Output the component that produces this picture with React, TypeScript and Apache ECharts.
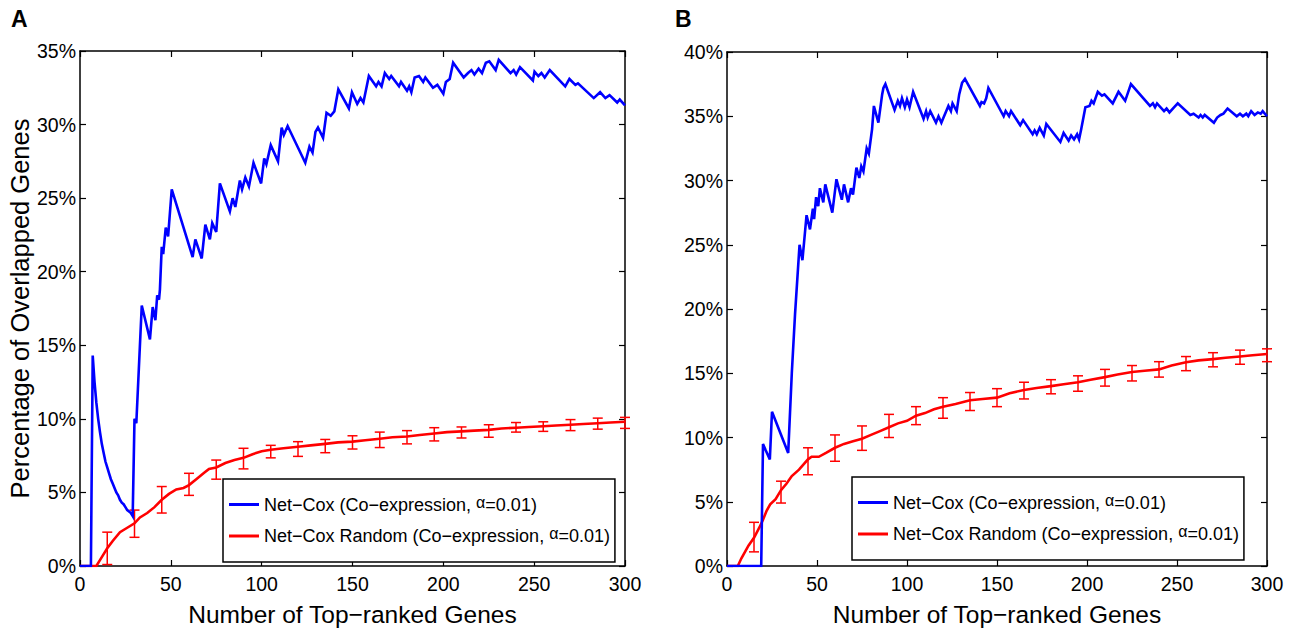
import React, { useEffect, useRef } from "react";
import * as echarts from "echarts";

// ---------- DATA ----------
const xTicksMax = 300;
const A_yMax = 35;
const B_yMax = 40;

const seriesNames = [
  "Net−Cox (Co−expression, α=0.01)",
  "Net−Cox Random (Co−expression, α=0.01)",
];

// Panel A – Net-Cox (blue)
const A_netcox: number[][] = [
  [0, 0], [6, 0], [7, 14.3], [8, 12.5], [9, 11.1], [10, 10.0], [11, 9.1], [12, 8.3], [13, 7.7],
  [14, 7.1], [15, 6.7], [16, 6.3], [17, 5.9], [18, 5.6], [19, 5.3], [20, 5.0], [21, 4.8],
  [22, 4.5], [23, 4.3], [24, 4.2], [25, 4.0], [26, 3.8], [27, 3.7], [28, 3.6], [29, 3.4],
  [30, 10.0], [31, 9.7], [34, 17.7], [38.5, 15.4], [40, 17.6], [41.5, 16.7], [42.5, 18.4],
  [43.5, 18.1], [44, 18.8], [45, 21.7], [45.8, 21.2], [47.2, 23.0], [48.5, 22.4], [50.5, 25.6],
  [62, 21.0], [63.5, 22.2], [67, 20.9], [69, 23.2], [71.5, 22.2], [72.8, 23.3], [75, 22.7],
  [77, 26.0], [82.5, 24.1], [84, 25.0], [85.5, 24.4], [88, 26.2], [89.2, 25.6], [91, 26.4],
  [93, 25.8], [95.5, 27.4], [99.7, 26.0], [101.4, 27.7], [102.6, 27.3], [105, 28.6], [109, 27.5],
  [111, 29.8], [112.2, 29.3], [114.3, 29.9], [124, 27.4], [126.3, 28.5], [128, 28.1],
  [129.6, 29.5], [131, 29.8], [133.8, 29.1], [135.7, 30.8], [138, 30.6], [140, 30.9],
  [142.2, 32.4], [148, 31.1], [149.7, 32.2], [152.6, 31.4], [154.4, 31.8], [156, 31.5],
  [159, 33.3], [163, 32.6], [164.3, 32.9], [166, 32.6], [167.8, 33.5], [170.2, 33.1],
  [171.3, 33.3], [175.6, 32.6], [176.7, 32.9], [180, 32.3], [181.2, 32.6], [182.4, 32.2],
  [184.2, 33.2], [186.6, 33.3], [188.9, 32.9], [190.1, 33.2], [194.3, 32.5], [196.7, 32.7],
  [200, 32.1], [201.4, 32.9], [203.5, 33.1], [205.4, 34.2], [211.2, 33.2], [213.6, 33.5],
  [215.5, 33.7], [217.1, 33.4], [219.4, 33.8], [221.3, 33.5], [223.4, 34.2], [225.3, 34.3],
  [228.8, 33.7], [230.5, 34.4], [237, 33.5], [238.7, 33.7], [240.1, 33.4], [242.2, 33.9],
  [249.3, 33.0], [250.2, 33.6], [252.3, 33.3], [254, 33.5], [255.8, 33.2], [258.6, 33.7],
  [267.1, 32.6], [269.4, 33.1], [272.7, 32.7], [274.1, 32.8], [282.8, 31.8], [286.3, 32.2],
  [289.2, 31.8], [291.5, 32.0], [295.7, 31.5], [297.1, 31.7], [300, 31.3],
];

// Panel A – Net-Cox Random (red)
const A_random: number[][] = [
  [0, 0], [9, 0], [12, 0.6], [15, 1.2], [18, 1.7], [22, 2.3], [26, 2.6], [30, 2.9], [33, 3.3],
  [37, 3.6], [41, 4.0], [45, 4.5], [49, 4.9], [53, 5.2], [57, 5.3], [60, 5.5], [64, 5.9],
  [68, 6.3], [71, 6.6], [75, 6.7], [80, 7.0], [85, 7.2], [90, 7.35], [95, 7.6], [100, 7.8],
  [105, 7.9], [112, 8.0], [120, 8.1], [127, 8.2], [135, 8.3], [142, 8.4], [150, 8.45],
  [157, 8.55], [165, 8.65], [172, 8.75], [180, 8.8], [187, 8.9], [195, 9.0], [202, 9.1],
  [210, 9.15], [217, 9.2], [225, 9.25], [232, 9.35], [240, 9.4], [247, 9.45], [255, 9.5],
  [262, 9.55], [270, 9.6], [277, 9.65], [285, 9.7], [292, 9.75], [300, 9.8],
];

const errX = [15, 30, 45, 60, 75, 90, 105, 120, 135, 150, 165, 180, 195, 210, 225, 240, 255, 270, 285, 300];
const A_errLo = [0.1, 1.95, 3.6, 4.8, 5.9, 6.6, 7.35, 7.45, 7.7, 7.95, 8.05, 8.3, 8.5, 8.7, 8.75, 9.1, 9.15, 9.2, 9.3, 9.35];
const A_errHi = [2.3, 3.8, 5.4, 6.3, 7.2, 8.0, 8.2, 8.45, 8.6, 8.85, 9.1, 9.2, 9.4, 9.45, 9.6, 9.75, 9.8, 9.95, 10.05, 10.1];

// Panel B – Net-Cox (blue)
const B_netcox: number[][] = [
  [0, 0], [19, 0], [20, 9.5], [21.5, 9.0], [23.8, 8.3], [25, 12.0], [34, 8.8], [36, 15.0],
  [37.8, 19.6], [40.3, 25.0], [41.9, 23.8], [44.2, 27.3], [46.1, 26.2], [47.7, 27.8],
  [48.4, 27.0], [49.5, 28.7], [50.7, 28.0], [51.6, 29.4], [53.5, 28.3], [54.6, 29.7],
  [58.5, 27.5], [60.8, 30.1], [63.8, 28.5], [65, 29.7], [67.3, 28.3], [68.9, 29.4], [70, 28.9],
  [71.9, 31.0], [73.5, 30.2], [74.6, 31.1], [75.8, 30.7], [77.6, 32.5], [78.8, 32.1],
  [80.6, 34.0], [81.6, 35.8], [84.1, 34.5], [86.2, 36.7], [86.9, 37.2], [88, 37.5], [93.1, 35.5],
  [94.9, 36.2], [96.1, 35.8], [97.2, 36.4], [98.8, 35.7], [100, 36.3], [101.4, 35.7],
  [103.4, 36.9], [109.2, 34.8], [110.6, 35.4], [111.5, 34.9], [112.9, 35.4], [116.1, 34.5],
  [117.5, 35.0], [119.1, 34.5], [120.3, 34.9], [123, 35.8], [124.4, 35.4], [125.3, 36.0],
  [127.6, 35.4], [129, 36.7], [130.6, 37.6], [132.2, 37.9], [140.5, 35.8], [141.4, 36.1],
  [142.8, 36.0], [144, 36.4], [145.2, 37.2], [153.7, 35.0], [154.8, 35.4], [156.7, 35.0],
  [157.8, 35.4], [162.9, 34.3], [164.5, 34.7], [169.8, 33.6], [170.9, 33.9], [172.1, 33.6],
  [173.7, 34.1], [176, 33.5], [177.4, 34.4], [185.2, 33.0], [187, 33.7], [189.8, 33.1],
  [191.2, 33.5], [192.8, 33.2], [194.5, 33.6], [195.6, 33.2], [196.8, 34.0], [199.1, 35.7],
  [201.4, 35.8], [202.5, 36.2], [203.7, 36.0], [206, 36.9], [208.3, 36.6], [209.7, 36.7],
  [214.3, 36.0], [217.5, 36.9], [221.2, 36.2], [224.4, 37.5], [235, 35.8], [236.6, 36.0],
  [237.8, 35.7], [238.9, 36.0], [242.8, 35.4], [244.2, 35.6], [245.8, 35.3], [247.7, 35.6],
  [250.4, 36.0], [257.4, 35.1], [259.2, 35.2], [262, 34.9], [263.1, 35.1], [264.3, 34.9],
  [265.4, 35.1], [270.5, 34.5], [272.3, 34.9], [274.2, 35.1], [275.8, 35.2], [278.1, 35.6],
  [283.2, 35.0], [285, 35.2], [286.6, 35.0], [288.5, 35.2], [289.6, 35.0], [291.2, 35.4],
  [293.1, 35.1], [294.9, 35.3], [296.5, 35.2], [297.6, 35.4], [300, 35.0],
];

// Panel B – Net-Cox Random (red)
const B_random: number[][] = [
  [0, 0], [6, 0], [8, 0.6], [12, 1.6], [15, 2.2], [18, 3.0], [20, 3.6], [22, 4.3], [24, 4.8],
  [27, 5.2], [30, 5.9], [33, 6.4], [36, 7.0], [40, 7.5], [45, 8.3], [47, 8.5], [51, 8.5],
  [55, 8.8], [60, 9.2], [65, 9.5], [70, 9.7], [75, 9.9], [80, 10.2], [85, 10.5], [90, 10.8],
  [95, 11.1], [100, 11.3], [105, 11.7], [110, 11.9], [115, 12.2], [120, 12.4], [127, 12.6],
  [135, 12.9], [142, 13.0], [150, 13.1], [157, 13.45], [165, 13.7], [172, 13.85], [180, 14.0],
  [187, 14.15], [195, 14.3], [202, 14.5], [210, 14.7], [217, 14.9], [225, 15.1], [232, 15.2],
  [240, 15.3], [247, 15.6], [255, 15.85], [262, 16.0], [270, 16.1], [277, 16.2], [285, 16.3],
  [292, 16.4], [300, 16.5],
];
const B_errLo = [1.1, 4.9, 7.1, 8.15, 9.0, 10.0, 11.0, 11.5, 12.1, 12.4, 13.0, 13.4, 13.6, 14.0, 14.4, 14.7, 15.2, 15.5, 15.7, 15.9];
const B_errHi = [3.4, 6.6, 9.2, 10.2, 10.9, 11.8, 12.4, 13.1, 13.5, 13.8, 14.3, 14.5, 14.8, 15.3, 15.6, 15.9, 16.3, 16.6, 16.8, 16.9];

const xTitle = "Number of Top−ranked Genes";
const yTitle = "Percentage of Overlapped Genes";

// ---------- STYLE ----------
const FONT = "'Liberation Sans', Arial, Helvetica, sans-serif";
const BLUE = "#0000ff";
const RED = "#ff0000";

function makeAxes(gridIndex: number, yMax: number, showYName: boolean) {
  const lineStyle = { color: "#000", width: 1.5 };
  const tick = { show: true, inside: true, length: 6, lineStyle: { color: "#000", width: 1.2 } };
  const xs = [
    {
      type: "value", gridIndex, min: 0, max: xTicksMax, interval: 50, position: "bottom",
      axisLine: { show: true, onZero: false, lineStyle }, axisTick: tick,
      splitLine: { show: false },
      axisLabel: { color: "#000", fontSize: 19.5, fontFamily: FONT, margin: 8 },
      name: xTitle, nameLocation: "middle", nameGap: 36,
      nameTextStyle: { color: "#000", fontSize: 24.5, fontFamily: FONT },
    },
    {
      type: "value", gridIndex, min: 0, max: xTicksMax, interval: 50, position: "top",
      axisLine: { show: true, onZero: false, lineStyle }, axisTick: tick,
      splitLine: { show: false }, axisLabel: { show: false },
    },
  ];
  const ys = [
    {
      type: "value", gridIndex, min: 0, max: yMax, interval: 5, position: "left",
      axisLine: { show: true, onZero: false, lineStyle }, axisTick: tick,
      splitLine: { show: false },
      axisLabel: { color: "#000", fontSize: 19.5, fontFamily: FONT, margin: 4, formatter: "{value}%" },
      name: showYName ? yTitle : "", nameLocation: "middle", nameGap: 47, nameRotate: 90,
      nameTextStyle: { color: "#000", fontSize: 25.5, fontFamily: FONT },
    },
    {
      type: "value", gridIndex, min: 0, max: yMax, interval: 5, position: "right",
      axisLine: { show: true, onZero: false, lineStyle }, axisTick: tick,
      splitLine: { show: false }, axisLabel: { show: false },
    },
  ];
  return { xs, ys };
}

function errorSeries(axisBase: number, lo: number[], hi: number[]) {
  const data = errX.map((x, i) => [x, lo[i], hi[i]]);
  return {
    type: "custom",
    name: "err" + axisBase,
    xAxisIndex: axisBase,
    yAxisIndex: axisBase,
    clip: false,
    silent: true,
    z: 3,
    encode: { x: 0, y: [1, 2] },
    data,
    renderItem: (_params: any, api: any) => {
      const x = api.value(0);
      const pLo = api.coord([x, api.value(1)]);
      const pHi = api.coord([x, api.value(2)]);
      const w = 5;
      const style = { stroke: RED, lineWidth: 1.5, fill: "none" };
      return {
        type: "group",
        children: [
          { type: "line", shape: { x1: pLo[0], y1: pLo[1], x2: pHi[0], y2: pHi[1] }, style },
          { type: "line", shape: { x1: pHi[0] - w, y1: pHi[1], x2: pHi[0] + w, y2: pHi[1] }, style },
          { type: "line", shape: { x1: pLo[0] - w, y1: pLo[1], x2: pLo[0] + w, y2: pLo[1] }, style },
        ],
      };
    },
  };
}

function lineSeries(name: string, axisIdx: number, data: number[][], color: string, width: number, z: number) {
  return {
    type: "line", name, xAxisIndex: axisIdx, yAxisIndex: axisIdx, data,
    showSymbol: false, symbol: "none", color, z,
    lineStyle: { color, width, join: "miter" },
    itemStyle: { color },
    emphasis: { disabled: true },
  };
}

function legendFor(left: number, top: number) {
  return {
    data: seriesNames,
    orient: "vertical",
    left, top,
    backgroundColor: "#fff",
    borderColor: "#000",
    borderWidth: 1.5,
    padding: [15, 5, 17, 6],
    itemGap: 12,
    itemWidth: 30,
    itemHeight: 3,
    icon: "rect",
    selectedMode: false,
    formatter: (n: string) => n.replace("α", "{a|α}"),
    textStyle: {
      color: "#000", fontSize: 18, fontFamily: FONT,
      rich: { a: { color: "#000", fontSize: 16, fontFamily: FONT, padding: [0, 0, 5, 0] } },
    },
  };
}

export default function App() {
  const ref = useRef<HTMLDivElement>(null);
  useEffect(() => {
    if (!ref.current) return;
    const chart = echarts.init(ref.current, undefined, { renderer: "svg" });
    const a = makeAxes(0, A_yMax, true);
    const b = makeAxes(1, B_yMax, false);
    // axis order: x0 A-bottom, x1 A-top, x2 B-bottom, x3 B-top (same for y)
    const xAxis = [a.xs[0], a.xs[1], b.xs[0], b.xs[1]];
    const yAxis = [a.ys[0], a.ys[1], b.ys[0], b.ys[1]];
    const option: any = {
      animation: false,
      backgroundColor: "#fff",
      grid: [
        { left: 80, top: 51, width: 545, height: 523 },
        { left: 727, top: 52, width: 540, height: 524 },
      ],
      xAxis, yAxis,
      legend: [legendFor(223, 479), legendFor(852, 477)],
      graphic: [
        { type: "text", left: 11, top: 7, style: { text: "A", font: `bold 23px ${FONT}`, fill: "#000" } },
        { type: "text", left: 675, top: 7, style: { text: "B", font: `bold 23px ${FONT}`, fill: "#000" } },
      ],
      series: [
        errorSeries(0, A_errLo, A_errHi),
        lineSeries(seriesNames[1], 0, A_random, RED, 2.6, 4),
        lineSeries(seriesNames[0], 0, A_netcox, BLUE, 2.6, 5),
        errorSeries(2, B_errLo, B_errHi),
        lineSeries(seriesNames[1], 2, B_random, RED, 2.6, 4),
        lineSeries(seriesNames[0], 2, B_netcox, BLUE, 2.6, 5),
      ],
    };
    chart.setOption(option);
    return () => chart.dispose();
  }, []);
  return (
    <div
      ref={ref}
      style={{ position: "fixed", left: 0, top: 0, width: 1290, height: 632, background: "#fff" }}
    />
  );
}
